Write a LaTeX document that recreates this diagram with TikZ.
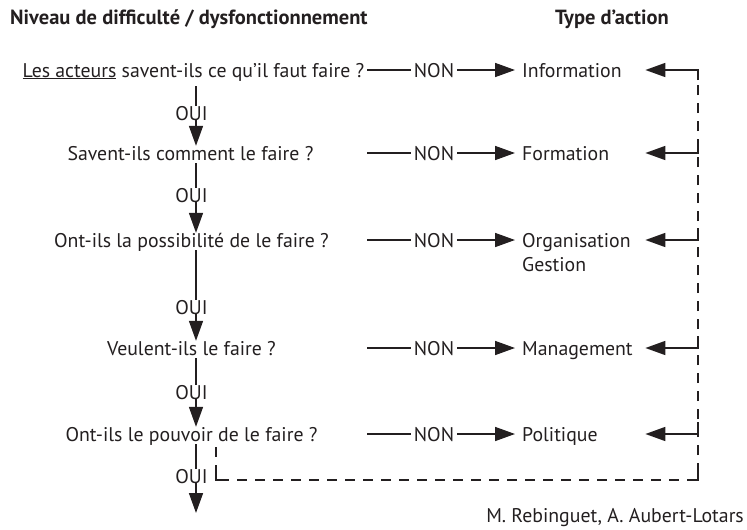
\documentclass[tikz,border=0pt]{standalone}
\usepackage{fontspec}
\setmainfont{PT Sans}
\usetikzlibrary{arrows.meta}
\definecolor{ink}{HTML}{231F20}
\begin{document}
\begin{tikzpicture}[x=1pt,y=-1pt,
  txt/.style={font=\fontsize{19.8}{23}\selectfont, text=ink, inner sep=0pt, text height=14pt, text depth=0pt},
  hdr/.style={txt, font=\fontsize{20.5}{24}\selectfont\bfseries, anchor=west},
  quest/.style={txt, anchor=center},
  oui/.style={txt, anchor=center},
  non/.style={txt, anchor=center, inner xsep=3pt},
  act/.style={txt, anchor=west, inner xsep=7pt, text width=116pt, align=left},
  conn/.style={draw=ink, line width=1.6pt},
  arr/.style={conn, -{Triangle[length=20pt,width=14pt]}},
  dsh/.style={draw=ink, line width=1.6pt, dash pattern=on 10pt off 8pt},
]
\useasboundingbox (0,0) rectangle (747,530);

% headers
\node[hdr] (h1) at (10,17) {Niveau de difficulté / dysfonctionnement};
\node[hdr] (h2) at (555,17) {Type d’action};

% vertical axis
\coordinate (vx) at (196,0);

% questions
\node[quest] (q1) at (193.5,70) {\underline{Les acteurs} savent-ils ce qu’il faut faire ?};
\node[quest] (q2) at (190.5,153) {Savent-ils comment le faire ?};
\node[quest] (q3) at (191.5,240) {Ont-ils la possibilité de le faire ?};
\node[quest] (q4) at (191.5,348) {Veulent-ils le faire ?};
\node[quest] (q5) at (191.5,434) {Ont-ils le pouvoir de le faire ?};

% OUI
\node[oui] (o1) at (191.5,113) {OUI};
\node[oui] (o2) at (191.5,195) {OUI};
\node[oui] (o3) at (191.5,307) {OUI};
\node[oui] (o4) at (191.5,392) {OUI};
\node[oui] (o5) at (191.5,476) {OUI};
\coordinate (fin) at (196,513);

% vertical connectors
\draw[conn, shorten <=9pt] (q1.south -| vx) -- (o1.north -| vx);
\draw[arr] (o1.south -| vx) -- (q2.north -| vx);
\draw[conn, shorten <=3pt] (q2.south -| vx) -- (o2.north -| vx);
\draw[arr] (o2.south -| vx) -- (q3.north -| vx);
\draw[conn, shorten <=3pt] (q3.south -| vx) -- (o3.north -| vx);
\draw[arr] (o3.south -| vx) -- (q4.north -| vx);
\draw[conn, shorten <=3pt] (q4.south -| vx) -- (o4.north -| vx);
\draw[arr] (o4.south -| vx) -- (q5.north -| vx);
\draw[conn, shorten <=3pt] (q5.south -| vx) -- (o5.north -| vx);
\draw[arr] (o5.south -| vx) -- (fin);

% NON and actions
\foreach \i/\y in {1/70,2/153,3/240,4/348,5/434}{
  \coordinate (s\i) at (367,\y);
  \coordinate (r\i) at (698,\y);
  \node[non] (n\i) at (434,\y) {NON};
}
\node[act] (a1) at (515,70) {Information};
\node[act] (a2) at (515,153) {Formation};
\node[act] (a3) at (515,240) {Organisation};
\node[act] (a3g) at (515,264) {Gestion};
\node[act] (a4) at (515,348) {Management};
\node[act] (a5) at (515,434) {Politique};

\foreach \i in {1,...,5}{
  \draw[conn] (s\i) -- (n\i.west);
  \draw[arr] (n\i.east) -- (a\i.west);
}

% feedback loop
\coordinate (l0) at (216,447);
\coordinate (l1) at (216,480);
\coordinate (b) at (698,480);
\draw[dsh] (l0) -- (l1) -- (b) -- (r1);
\draw[conn] ([yshift=8pt]l1) -- (l1) -- ([xshift=8pt]l1);
\draw[conn] ([xshift=-8pt]b) -- (b) -- ([yshift=10pt]b);
\draw[arr] ([yshift=-10pt]r1) -- (r1) -- (a1.east);
\foreach \i in {2,...,5}{
  \draw[arr] ([yshift=12pt]r\i) -- (r\i) -- (a\i.east);
}

% credit
\node[txt, anchor=east] (cr) at (744,515) {M. Rebinguet, A. Aubert-Lotars};
\end{tikzpicture}
\end{document}
